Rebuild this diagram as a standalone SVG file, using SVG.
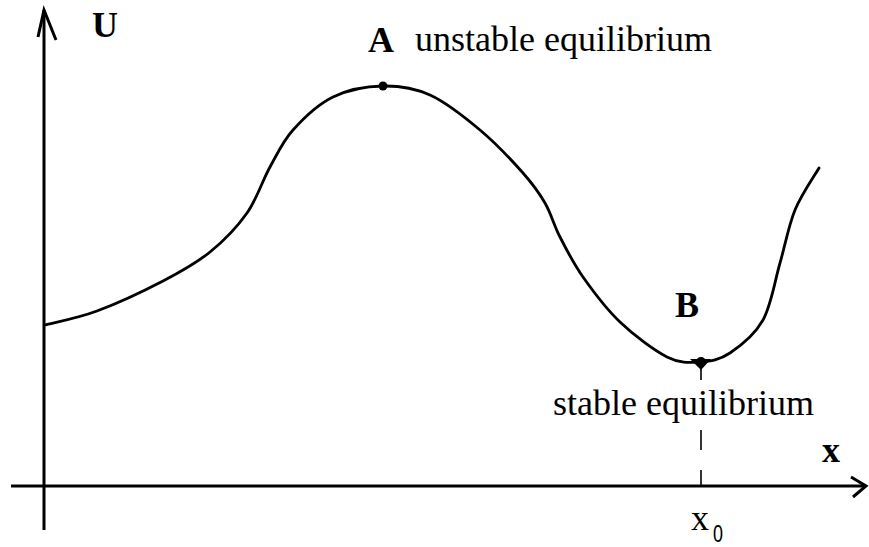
<svg xmlns="http://www.w3.org/2000/svg" width="869" height="547" viewBox="0 0 869 547">
<style>
.ax{stroke:#000;stroke-width:3;fill:none;stroke-linecap:butt}
.ah{stroke:#000;stroke-width:3;fill:none;stroke-linejoin:miter}
.cv{stroke:#000;stroke-width:2.8;fill:none;stroke-linejoin:round;stroke-linecap:round}
.ds{stroke:#000;stroke-width:1.6}
.t{font-family:"Liberation Serif","Times New Roman",serif;font-size:36px;fill:#000}
.b{font-weight:bold}
</style>
<rect width="869" height="547" fill="#fff"/>
<g id="axes">
<line class="ax" x1="44" y1="10" x2="44" y2="530"/>
<polyline class="ah" points="38,37 44,10 56,40"/>
<line class="ax" x1="11" y1="486" x2="865" y2="486"/>
<polyline class="ah" points="851,477 866,486 853,497"/>
</g>
<g id="curve">
<path class="cv" d="M45,325 C53.7,322.7 77.3,318.3 97,311 C116.7,303.7 144.2,290.8 163,281 C181.8,271.2 196,263.3 210,252 C224,240.7 237,227.2 247,213 C257,198.8 262.3,180.8 270,167 C277.7,153.2 282.5,141.7 293,130 C303.5,118.3 318,104.3 333,97 C348,89.7 366.8,86.3 383,86 C399.2,85.7 413.8,87.7 430,95 C446.2,102.3 464.5,117 480,130 C495.5,143 512.2,160.8 523,173 C533.8,185.2 538.8,192.3 545,203 C551.2,213.7 553.7,224.7 560,237 C566.3,249.3 573,262.8 583,277 C593,291.2 606,308.7 620,322 C634,335.3 653.7,350.3 667,357 C680.3,363.7 689.5,362.7 700,362 C710.5,361.3 719.5,360 730,353 C740.5,346 754.7,335 763,320 C771.3,305 774.7,281.3 780,263 C785.3,244.7 788.5,225.8 795,210 C801.5,194.2 815,175 819,168"/>
</g>
<g id="pointA">
<circle cx="383" cy="86" r="4.5"/>
<text class="t b" x="368" y="52">A</text>
<text class="t" x="415" y="51">unstable equilibrium</text>
</g>
<g id="pointB">
<path d="M690,359 L711,359 L701,370 Z"/>
<circle cx="701" cy="362" r="5"/>
<text class="t b" x="675" y="317">B</text>
<text class="t" x="553" y="415">stable equilibrium</text>
</g>
<g id="dashes">
<line class="ds" x1="701" y1="366" x2="701" y2="380"/>
<line class="ds" x1="701" y1="430" x2="701" y2="450"/>
<line class="ds" x1="701" y1="470" x2="701" y2="486"/>
</g>
<g id="labels">
<text class="t b" x="92" y="37">U</text>
<text class="t b" x="822" y="462">x</text>
<text class="t" x="691" y="530">x</text>
<text x="713" y="542" font-family="Liberation Sans, Arial, sans-serif" font-size="23" transform="translate(713 0) scale(0.78 1) translate(-713 0)">0</text>
</g>
</svg>
